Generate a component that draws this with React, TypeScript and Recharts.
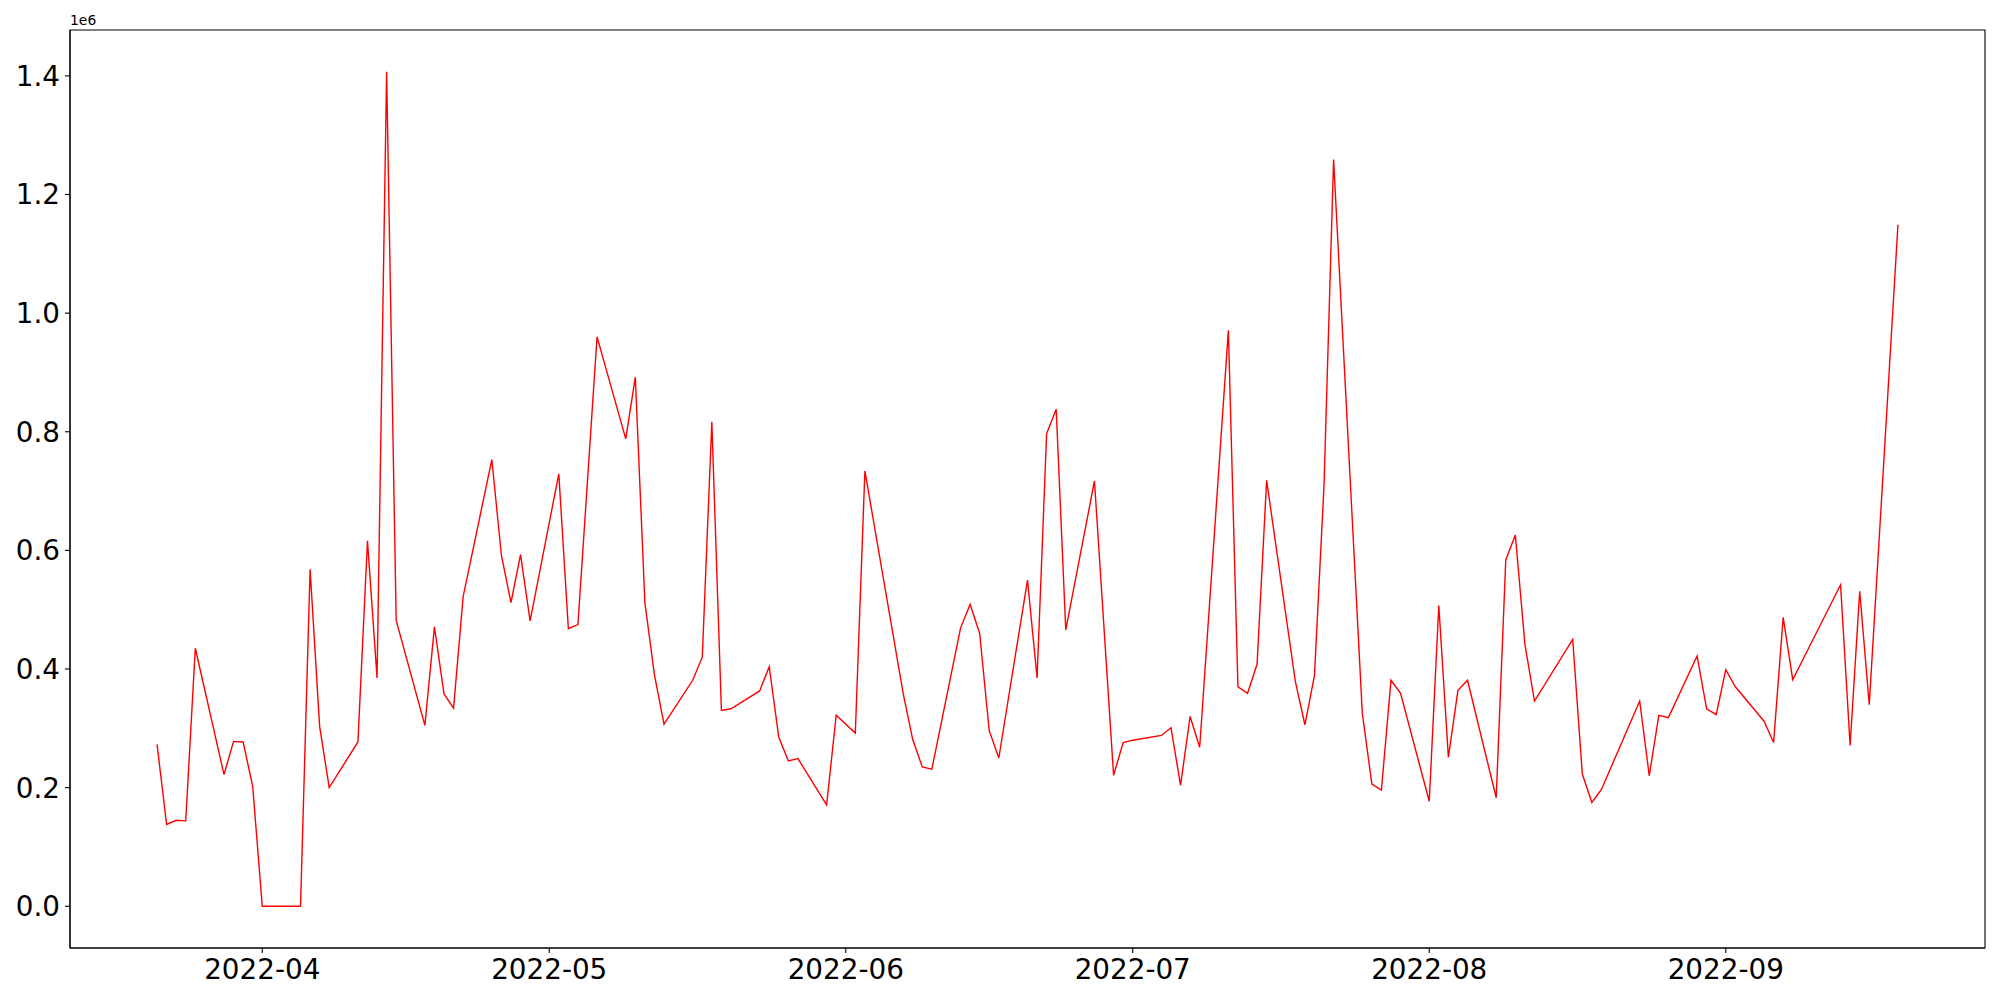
import React from 'react';
import { LineChart, Line, XAxis, YAxis, ReferenceArea } from 'recharts';

const dates: string[] = [
  '2022-03-21', '2022-03-22', '2022-03-23', '2022-03-24', '2022-03-25',
  '2022-03-28', '2022-03-29', '2022-03-30', '2022-03-31', '2022-04-01',
  '2022-04-04', '2022-04-05', '2022-04-06', '2022-04-07', '2022-04-08',
  '2022-04-11', '2022-04-12', '2022-04-13', '2022-04-14', '2022-04-15',
  '2022-04-18', '2022-04-19', '2022-04-20', '2022-04-21', '2022-04-22',
  '2022-04-25', '2022-04-26', '2022-04-27', '2022-04-28', '2022-04-29',
  '2022-05-02', '2022-05-03', '2022-05-04', '2022-05-06',
  '2022-05-09', '2022-05-10', '2022-05-11', '2022-05-12', '2022-05-13',
  '2022-05-16', '2022-05-17', '2022-05-18', '2022-05-19', '2022-05-20',
  '2022-05-23', '2022-05-24', '2022-05-25', '2022-05-26', '2022-05-27',
  '2022-05-30', '2022-05-31', '2022-06-02', '2022-06-03',
  '2022-06-07', '2022-06-08', '2022-06-09', '2022-06-10',
  '2022-06-13', '2022-06-14', '2022-06-15', '2022-06-16', '2022-06-17',
  '2022-06-20', '2022-06-21', '2022-06-22', '2022-06-23', '2022-06-24',
  '2022-06-27', '2022-06-29', '2022-06-30', '2022-07-01',
  '2022-07-04', '2022-07-05', '2022-07-06', '2022-07-07', '2022-07-08',
  '2022-07-11', '2022-07-12', '2022-07-13', '2022-07-14', '2022-07-15',
  '2022-07-18', '2022-07-19', '2022-07-20', '2022-07-21', '2022-07-22',
  '2022-07-25', '2022-07-26', '2022-07-27', '2022-07-28', '2022-07-29',
  '2022-08-01', '2022-08-02', '2022-08-03', '2022-08-04', '2022-08-05',
  '2022-08-08', '2022-08-09', '2022-08-10', '2022-08-11', '2022-08-12',
  '2022-08-16', '2022-08-17', '2022-08-18', '2022-08-19',
  '2022-08-23', '2022-08-24', '2022-08-25', '2022-08-26',
  '2022-08-29', '2022-08-30', '2022-08-31', '2022-09-01', '2022-09-02',
  '2022-09-05', '2022-09-06', '2022-09-07', '2022-09-08',
  '2022-09-13', '2022-09-14', '2022-09-15', '2022-09-16',
  '2022-09-19',
];

const values: number[] = [
  273000, 138000, 145000, 144000, 435000,
  222000, 278000, 277000, 202000, 0,
  0, 0, 568000, 303000, 200000,
  277000, 616000, 385000, 1407000, 482000,
  305000, 471000, 358000, 334000, 522000,
  753000, 592000, 512000, 593000, 481000,
  729000, 468000, 475000, 960000,
  788000, 892000, 512000, 390000, 307000,
  381000, 420000, 817000, 330000, 333000,
  363000, 404000, 285000, 245000, 249000,
  171000, 322000, 292000, 734000,
  359000, 281000, 235000, 231000,
  469000, 509000, 460000, 296000, 250000,
  550000, 385000, 797000, 838000, 466000,
  717000, 221000, 276000, 280000,
  288000, 301000, 204000, 320000, 268000,
  971000, 370000, 359000, 408000, 718000,
  379000, 306000, 389000, 710000, 1259000,
  326000, 206000, 196000, 381000, 359000,
  177000, 507000, 251000, 364000, 381000,
  183000, 584000, 626000, 442000, 346000,
  450000, 223000, 175000, 197000,
  346000, 220000, 322000, 318000,
  422000, 333000, 323000, 399000, 370000,
  312000, 276000, 487000, 382000,
  542000, 271000, 531000, 340000,
  1149000,
];

const monthTicks: string[] = [
  '2022-04-01', '2022-05-01', '2022-06-01', '2022-07-01', '2022-08-01', '2022-09-01',
];

const yTicks: number[] = [0, 200000, 400000, 600000, 800000, 1000000, 1200000, 1400000];

const toTs = (s: string): number => {
  const [y, m, d] = s.split('-').map(Number);
  return Date.UTC(y, m - 1, d);
};

const data = dates.map((d, i) => ({ t: toTs(d), v: values[i] }));

const tMin = toTs(dates[0]);
const tMax = toTs(dates[dates.length - 1]);
const tPad = (tMax - tMin) * 0.05;
const xDomain: [number, number] = [tMin - tPad, tMax + tPad];

const vMin = Math.min(...values);
const vMax = Math.max(...values);
const vPad = (vMax - vMin) * 0.05;
const yDomain: [number, number] = [vMin - vPad, vMax + vPad];

const xTickValues = monthTicks.map(toTs);

const fmtX = (t: number): string => {
  const d = new Date(t);
  const m = d.getUTCMonth() + 1;
  return `${d.getUTCFullYear()}-${m < 10 ? '0' + m : m}`;
};

const fmtY = (v: number): string => (v / 1e6).toFixed(1);

const FONT = 'DejaVu Sans';
const tickStyle = { fill: '#000', fontSize: 27.8, fontFamily: FONT };
const axisLine = { stroke: '#000', strokeWidth: 1.1 };

export default function App() {
  return (
    <div style={{ position: 'absolute', left: 0, top: 0, width: 2000, height: 1000, background: '#fff' }}>
      <LineChart
        width={2000}
        height={1000}
        data={data}
        margin={{ top: 30, right: 15, bottom: 0, left: 0 }}
      >
        <XAxis
          dataKey="t"
          type="number"
          domain={xDomain}
          allowDataOverflow
          ticks={xTickValues}
          tickFormatter={fmtX}
          tick={tickStyle}
          tickSize={5}
          tickMargin={6}
          height={52}
          axisLine={axisLine}
          tickLine={axisLine}
        />
        <YAxis
          type="number"
          domain={yDomain}
          allowDataOverflow
          ticks={yTicks}
          tickFormatter={fmtY}
          tick={tickStyle}
          tickSize={5}
          tickMargin={5}
          width={70}
          axisLine={axisLine}
          tickLine={axisLine}
        />
        <ReferenceArea
          x1={xDomain[0]}
          x2={xDomain[1]}
          y1={yDomain[0]}
          y2={yDomain[1]}
          fill="none"
          fillOpacity={0}
          stroke="#000"
          strokeWidth={1.1}
          strokeOpacity={1}
          ifOverflow="visible"
        />
        <Line
          type="linear"
          dataKey="v"
          stroke="#ff0000"
          strokeWidth={1.4}
          dot={false}
          activeDot={false}
          isAnimationActive={false}
        />
      </LineChart>
      <svg
        width={2000}
        height={1000}
        style={{ position: 'absolute', left: 0, top: 0, pointerEvents: 'none' }}
      >
        <text x={70} y={25} fontFamily={FONT} fontSize={13.9} fill="#000">1e6</text>
      </svg>
    </div>
  );
}
